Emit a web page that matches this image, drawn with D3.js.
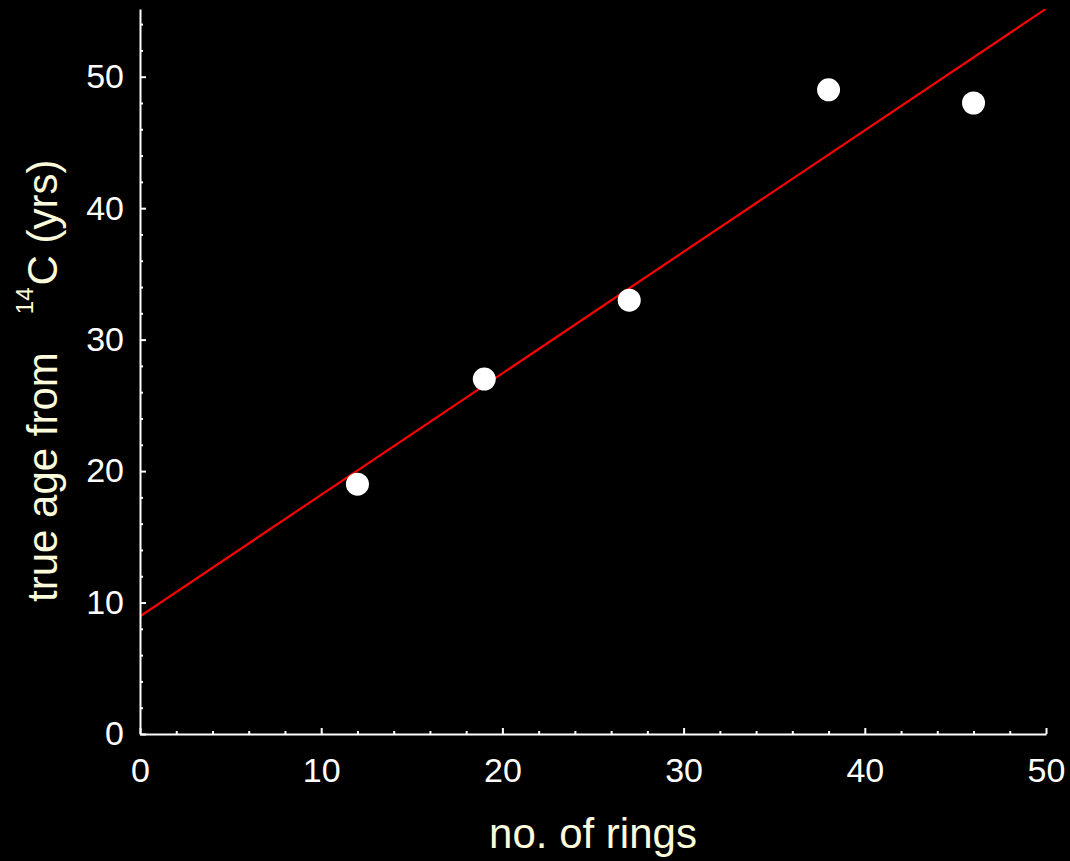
<!DOCTYPE html>
<html>
<head>
<meta charset="utf-8">
<script src="https://cdn.jsdelivr.net/npm/d3@7"></script>
<style>
  html, body { margin: 0; padding: 0; background: #000; }
  svg { display: block; }
  text { font-family: "Liberation Sans", Arial, sans-serif; }
</style>
</head>
<body>
<svg id="chart" width="1070" height="861"></svg>
<script>
// Ring counts against radiocarbon ages
const rings = [12, 19, 27, 38, 46];
const ages  = [19, 27, 33, 49, 48];

const xMajorTicks = [0, 10, 20, 30, 40, 50];
const yMajorTicks = [0, 10, 20, 30, 40, 50];
const xMinorTicks = d3.range(2, 50, 2).filter(v => v % 10 !== 0);
const yMinorTicks = d3.range(2, 56, 2).filter(v => v % 10 !== 0);

const xDomain = [0, 50];
const yDomain = [0, 55.15];

const W = 1070, H = 861;
const plotLeft = 140, plotRight = 1046, plotTop = 9, plotBottom = 734;

const svg = d3.select("#chart");
svg.append("rect").attr("width", W).attr("height", H).attr("fill", "#000");

const x = d3.scaleLinear().domain(xDomain).range([plotLeft, plotRight]);
const y = d3.scaleLinear().domain(yDomain).range([plotBottom, plotTop]);

// least-squares line through the points
const mx = d3.mean(rings), my = d3.mean(ages);
const slope = d3.sum(rings, (v, i) => (v - mx) * (ages[i] - my)) / d3.sum(rings, v => (v - mx) ** 2);
const intercept = my - slope * mx;

svg.append("clipPath").attr("id", "plot-clip")
  .append("rect").attr("x", plotLeft).attr("y", plotTop)
  .attr("width", plotRight - plotLeft).attr("height", plotBottom - plotTop);

svg.append("g").attr("clip-path", "url(#plot-clip)")
  .append("line")
  .attr("x1", x(xDomain[0])).attr("y1", y(intercept + slope * xDomain[0]))
  .attr("x2", x(xDomain[1])).attr("y2", y(intercept + slope * xDomain[1]))
  .attr("stroke", "#ff0000").attr("stroke-width", 2.2);

// data points
svg.append("g").selectAll("circle").data(rings).join("circle")
  .attr("cx", d => x(d))
  .attr("cy", (d, i) => y(ages[i]))
  .attr("r", 11.5)
  .attr("fill", "#fff");

function styleAxis(g) {
  g.selectAll("path.domain").attr("stroke", "#fff").attr("stroke-width", 2);
  g.selectAll(".tick line").attr("stroke", "#fff").attr("stroke-width", 2);
  g.selectAll(".tick text").attr("fill", "#fff")
    .style("font-family", '"Liberation Sans", Arial, sans-serif')
    .style("font-size", "34px");
}

// x axis: minor then major ticks, pointing into the plot
svg.append("g").attr("transform", `translate(0,${plotBottom})`)
  .call(d3.axisBottom(x).tickValues(xMinorTicks).tickFormat("").tickSizeInner(-3).tickSizeOuter(0))
  .call(g => g.select("path.domain").remove())
  .call(styleAxis);
svg.append("g").attr("transform", `translate(0,${plotBottom})`)
  .call(d3.axisBottom(x).tickValues(xMajorTicks).tickFormat(d3.format("d")).tickSizeInner(-6).tickSizeOuter(0).tickPadding(24))
  .call(styleAxis);

// y axis
svg.append("g").attr("transform", `translate(${plotLeft},0)`)
  .call(d3.axisLeft(y).tickValues(yMinorTicks).tickFormat("").tickSizeInner(-3).tickSizeOuter(0))
  .call(g => g.select("path.domain").remove())
  .call(styleAxis);
svg.append("g").attr("transform", `translate(${plotLeft},0)`)
  .call(d3.axisLeft(y).tickValues(yMajorTicks).tickFormat(d3.format("d")).tickSizeInner(-6).tickSizeOuter(0).tickPadding(16))
  .call(styleAxis);

// axis titles
const titleColor = "#fcfbdc";
svg.append("text")
  .attr("x", (plotLeft + plotRight) / 2).attr("y", 848)
  .attr("text-anchor", "middle")
  .attr("fill", titleColor)
  .style("font-size", "42px")
  .text("no. of rings");

const yTitle = svg.append("text")
  .attr("transform", "translate(57,602) rotate(-90)")
  .attr("fill", titleColor)
  .style("font-size", "42px");
yTitle.append("tspan").text("true age from");
yTitle.append("tspan").attr("dx", 38).attr("dy", -24).style("font-size", "24px").text("14");
yTitle.append("tspan").attr("dx", 2).attr("dy", 24).text("C (yrs)");
</script>
</body>
</html>
